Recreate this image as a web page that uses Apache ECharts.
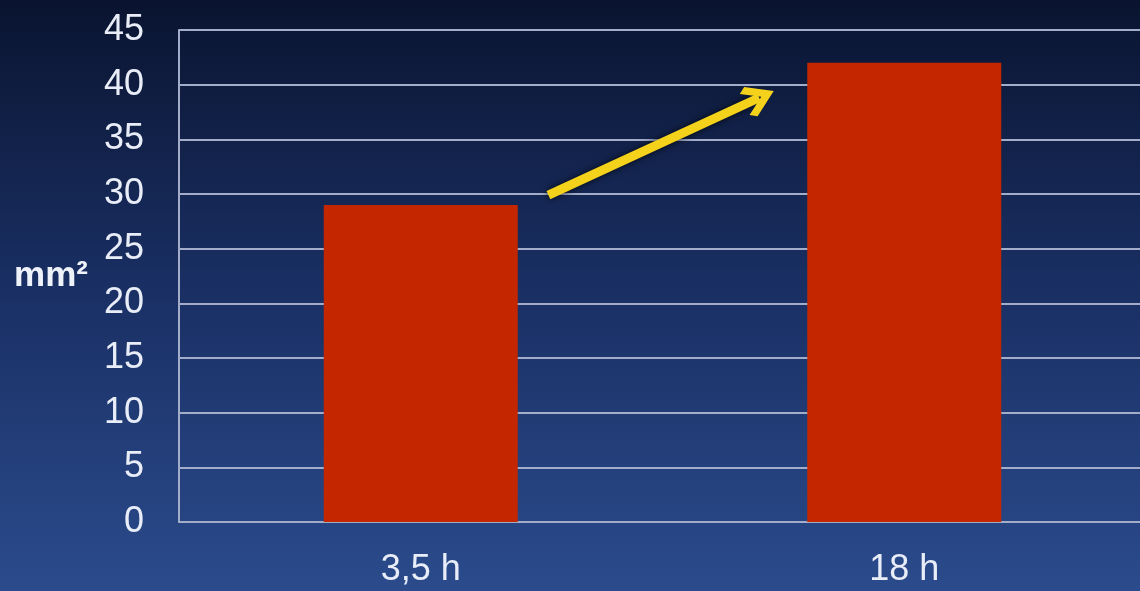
<!DOCTYPE html>
<html style="height: 100%">
<head>
    <meta charset="utf-8">
    <script src="https://cdn.jsdelivr.net/npm/echarts@6/dist/echarts.min.js"></script>
</head>
<body style="height: 100%; margin: 0">
    <div id="container" style="width: 1140px; height: 591px"></div>
    <script>
        var categories = ['3,5 h', '18 h'];
        var areaValues = [29, 42];
        var yTicks = { min: 0, max: 45, interval: 5 };
        // arrow annotation, in data units (category position, mm²)
        var arrowFrom = [0.264, 29.9];
        var arrowTo = [0.700, 38.8];

        var chart = echarts.init(document.getElementById('container'), null, { renderer: 'canvas' });
        var fontFamily = 'Liberation Sans, Arial, sans-serif';
        var labelFont = { color: '#e8edf8', fontSize: 36, fontFamily: fontFamily };
        var lineColor = '#a3adca';

        var option = {
            backgroundColor: {
                type: 'linear', x: 0, y: 0, x2: 0, y2: 1,
                colorStops: [
                    { offset: 0, color: '#0a1430' },
                    { offset: 0.5, color: '#1a3065' },
                    { offset: 1, color: '#2b4b8c' }
                ]
            },
            grid: { left: 179, width: 967, top: 30, bottom: 69, outerBoundsMode: 'none' },
            xAxis: [{
                type: 'category',
                data: categories,
                axisLine: { lineStyle: { color: lineColor, width: 2 } },
                axisTick: { show: false },
                axisLabel: Object.assign({ margin: 30 }, labelFont)
            }, {
                // hidden helper axis so the arrow can sit between categories
                type: 'value',
                min: -0.5,
                max: 1.5,
                show: false
            }],
            yAxis: {
                type: 'value',
                min: yTicks.min,
                max: yTicks.max,
                interval: yTicks.interval,
                name: 'mm²',
                nameLocation: 'middle',
                nameRotate: 0,
                nameGap: 91,
                nameTextStyle: { color: '#eef2fa', fontSize: 35, fontWeight: 'bold', fontFamily: fontFamily, padding: [6, 0, 0, 0] },
                axisLine: { show: true, onZero: false, lineStyle: { color: lineColor, width: 2 } },
                axisTick: { show: false },
                axisLabel: Object.assign({ margin: 35 }, labelFont),
                splitLine: { lineStyle: { color: lineColor, width: 2 } }
            },
            series: [{
                type: 'bar',
                data: areaValues,
                barWidth: 194,
                itemStyle: { color: '#c42700' }
            }, {
                type: 'lines',
                coordinateSystem: 'cartesian2d',
                xAxisIndex: 1,
                silent: true,
                symbol: ['none', 'path://M22,0 L44,22 L38,28 L22,12 L6,28 L0,22 Z'],
                symbolSize: [50, 32],
                lineStyle: {
                    color: '#f4d21c', width: 9, opacity: 1,
                    shadowColor: 'rgba(0,0,0,0.8)', shadowBlur: 6
                },
                data: [{ coords: [arrowFrom, arrowTo] }]
            }]
        };
        chart.setOption(option);
    </script>
</body>
</html>
